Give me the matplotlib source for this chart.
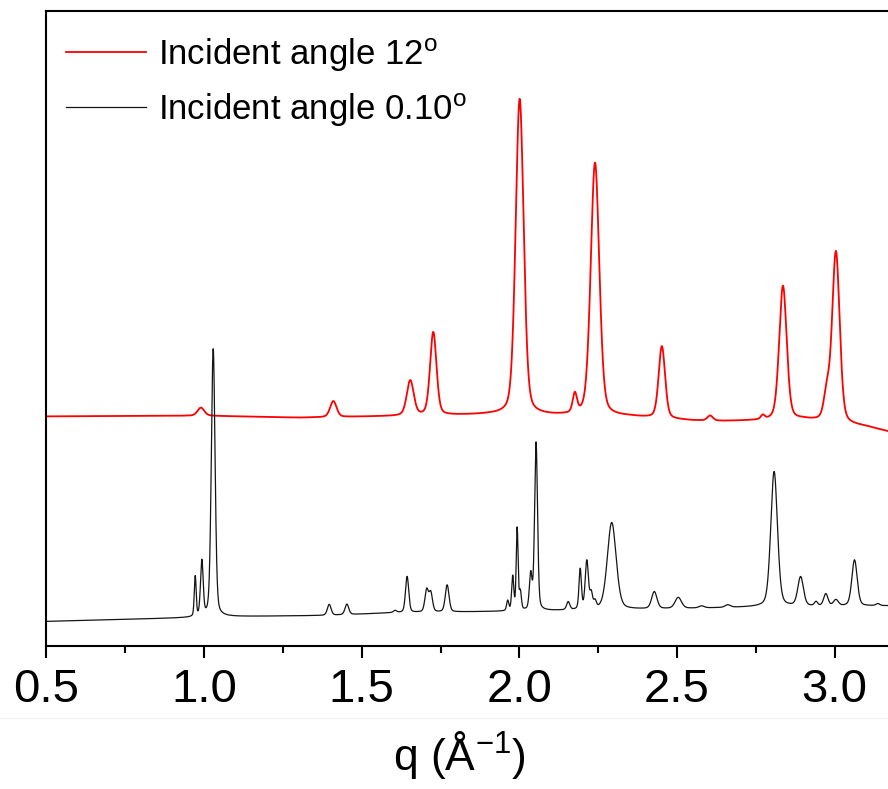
import numpy as np
import matplotlib.pyplot as plt
from matplotlib.lines import Line2D

plt.rcParams['font.family'] = ['Liberation Sans', 'DejaVu Sans']
plt.rcParams['mathtext.fontset'] = 'custom'
plt.rcParams['mathtext.rm'] = 'Liberation Sans'
plt.rcParams['mathtext.it'] = 'Liberation Sans:italic'

# 0.10 deg scan: background and peak list (q, height, fwhm)
black_base_q = [0.5, 0.96, 1.06, 1.4, 1.6, 2.0, 2.5, 2.8, 3.2]
black_base_i = [24.3, 28.0, 29.0, 30.3, 33.0, 34.5, 37.0, 39.0, 40.0]
black_peak_q = [0.972, 0.993, 1.029, 1.397, 1.453, 1.606, 1.644, 1.706, 1.719, 1.771,
                1.963, 1.979, 1.993, 2.003, 2.036, 2.053, 2.155, 2.193, 2.214, 2.228,
                2.240, 2.293, 2.428, 2.504, 2.578, 2.661, 2.808, 2.892, 2.941, 2.972,
                3.004, 3.063, 3.137]
black_peak_h = [40, 55, 268, 11, 10.5, 2, 36, 22, 19, 27,
                10, 34, 82, 18, 35, 168, 8, 40, 48, 15,
                7, 87, 17, 11, 2, 2.5, 135, 29, 4, 12,
                6, 46, 2]
black_peak_w = [0.007, 0.010, 0.014, 0.014, 0.014, 0.012, 0.012, 0.013, 0.013, 0.014,
                0.008, 0.008, 0.007, 0.008, 0.010, 0.011, 0.012, 0.009, 0.012, 0.010,
                0.010, 0.033, 0.020, 0.024, 0.020, 0.020, 0.025, 0.021, 0.012, 0.016,
                0.018, 0.020, 0.014]

# 12 deg scan
red_base_q = [0.5, 1.0, 1.3, 1.5, 1.9, 2.1, 2.35, 2.55, 2.65, 2.75, 2.9, 3.1, 3.2]
red_base_i = [229.3, 230.0, 228.0, 229.0, 231.0, 230.0, 229.0, 225.0, 224.5, 225.0, 226.0, 219.0, 212.0]
red_peak_q = [0.990, 1.410, 1.654, 1.727, 2.001, 2.176, 2.240, 2.452, 2.605, 2.772, 2.836, 2.975, 3.004]
red_peak_h = [8, 16, 35, 83, 316, 19, 253, 72, 5, 4, 134, 26, 171]
red_peak_w = [0.025, 0.024, 0.026, 0.024, 0.030, 0.016, 0.032, 0.024, 0.020, 0.014, 0.028, 0.022, 0.028]


def pattern(q, base_q, base_i, pk_q, pk_h, pk_w, eta=0.3):
    y = np.interp(q, base_q, base_i)
    for c, h, w in zip(pk_q, pk_h, pk_w):
        g = np.exp(-4 * np.log(2) * ((q - c) / w) ** 2)
        l = 1.0 / (1.0 + 4 * ((q - c) / w) ** 2)
        y = y + h * (eta * l + (1 - eta) * g)
    return y


q = np.linspace(0.5, 3.2, 6000)
i_red = pattern(q, red_base_q, red_base_i, red_peak_q, red_peak_h, red_peak_w)
i_black = pattern(q, black_base_q, black_base_i, black_peak_q, black_peak_h, black_peak_w)

fig = plt.figure(figsize=(8.88, 7.89), dpi=100)
ax = fig.add_axes([46.4 / 888, 1 - 645.7 / 789, (896 - 46.4) / 888, (645.7 - 11) / 789])

ax.plot(q, i_red, color='#ff0000', lw=1.3, label='Incident angle 12$^{\\mathrm{o}}$')
ax.plot(q, i_black, color='#151515', lw=0.9, label='Incident angle 0.10$^{\\mathrm{o}}$')

ax.set_xlim(0.5, 0.5 + (896 - 46.4) / 315.3)
ax.set_ylim(0, 634.7)
ax.set_yticks([])
ax.set_xticks([0.5, 1.0, 1.5, 2.0, 2.5, 3.0])
ax.set_xticklabels(['0.5', '1.0', '1.5', '2.0', '2.5', '3.0'])
ax.set_xticks(np.arange(0.75, 3.2, 0.5), minor=True)
ax.tick_params(axis='x', which='major', direction='out', length=8.5, width=1.5,
               labelsize=34, pad=7.5)
ax.tick_params(axis='x', which='minor', direction='out', length=4.7, width=1.5)
for s in ax.spines.values():
    s.set_linewidth(1.5)

ax.set_xlabel('q (Å$^{\\mathrm{-1}}$)', fontsize=32)
ax.xaxis.set_label_coords((459 - 46.4) / (896 - 46.4), -0.131)

ax.legend(loc='upper left', bbox_to_anchor=(66 / 888, 1 - 36 / 789),
          bbox_transform=fig.transFigure, frameon=False, fontsize=25,
          handlelength=2.3, handletextpad=0.36, labelspacing=0.5,
          borderpad=0, borderaxespad=0)

# faint separator under the tick labels
fig.add_artist(Line2D([0, 1], [1 - 718 / 789] * 2, transform=fig.transFigure,
                      color='#f3f3f3', lw=1))

fig.savefig('out.png', dpi=100)
